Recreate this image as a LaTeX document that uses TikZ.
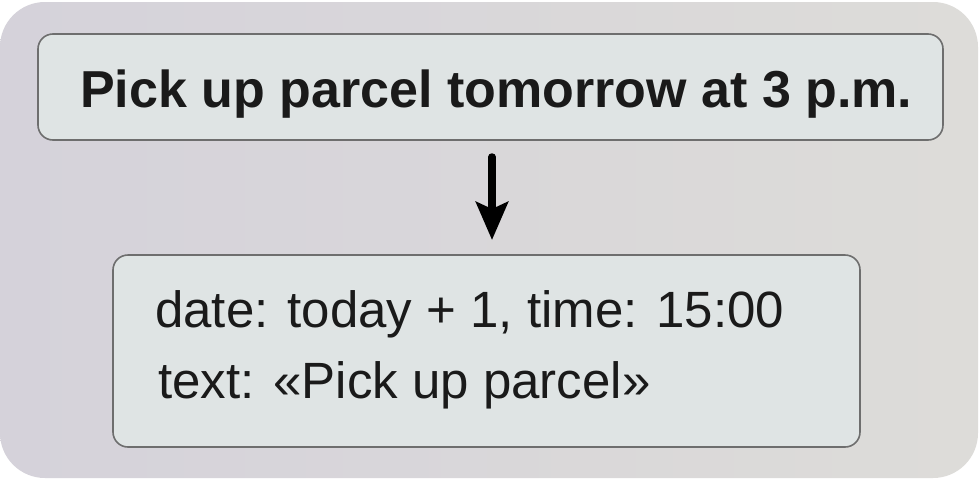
\documentclass[tikz,border=0pt]{standalone}
\usepackage{fontspec}
\setmainfont{Liberation Sans}
\usetikzlibrary{arrows.meta}
\definecolor{bgL}{HTML}{D5D2DA}
\definecolor{bgR}{HTML}{DDDCD9}
\definecolor{boxfill}{HTML}{DFE4E4}
\definecolor{boxline}{HTML}{6E6E6E}
\definecolor{txt}{HTML}{1A1A1A}
\tikzset{
  panel/.style={draw=boxline, line width=1.6pt, fill=boxfill, rounded corners=15pt},
  flowarrow/.style={line width=7.5pt, line cap=round, -{Stealth[length=38pt,width=32pt,inset=7pt]}, black},
}
\begin{document}
\begin{tikzpicture}[x=1pt,y=-1pt]
\useasboundingbox (0,0) rectangle (980,480);
\fill[white] (0,0) rectangle (980,480);
\shade[left color=bgL, right color=bgR, rounded corners=45pt] (0,2) rectangle (978,478);
\draw[panel] (38,34) rectangle (943,140);
\node[anchor=base west, inner sep=0pt, font=\fontsize{52}{58}\selectfont\bfseries, text=txt] (title) at (80,107) {Pick up parcel tomorrow at 3 p.m.};
\draw[panel] (113,255) rectangle (860,447);
\node[anchor=base west, inner sep=0pt, font=\fontsize{51}{56}\selectfont, text=txt] (l1) at (155,327) {date: today + 1, time: 15:00};
\node[anchor=base west, inner sep=0pt, font=\fontsize{51}{56}\selectfont, text=txt] (l2) at (158,398) {text: «Pick up parcel»};
\coordinate (a1) at (492,157);
\coordinate (a2) at (492,240);
\draw[flowarrow] (a1) -- (a2);
\end{tikzpicture}
\end{document}
